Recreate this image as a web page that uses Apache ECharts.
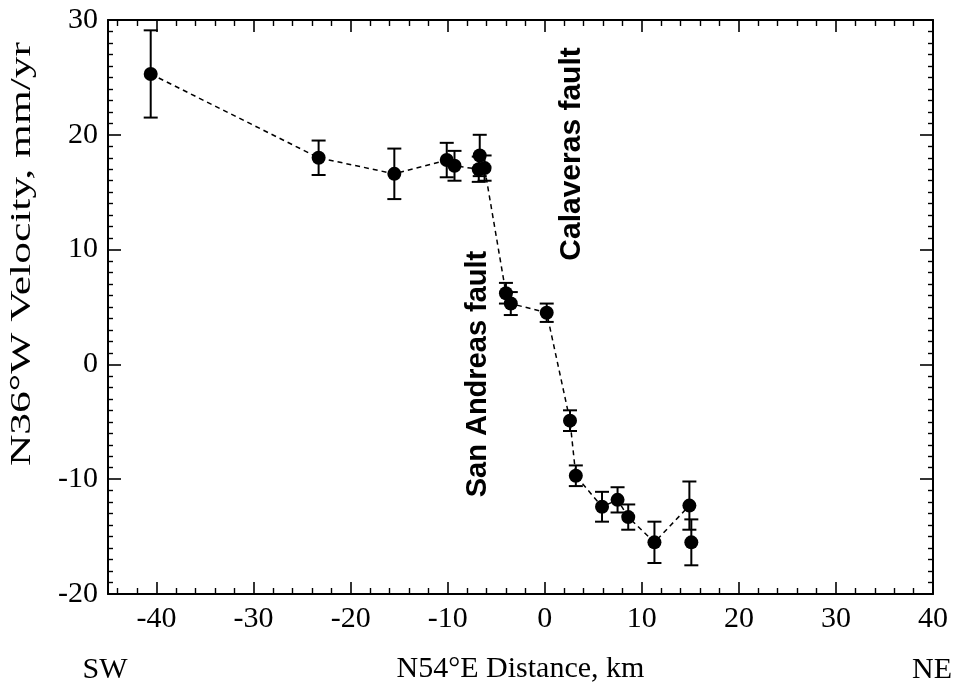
<!DOCTYPE html>
<html>
<head>
<meta charset="utf-8">
<script src="https://cdn.jsdelivr.net/npm/echarts@6/dist/echarts.min.js"></script>
<style>
  html, body { margin: 0; padding: 0; background: #fff; }
  #chart { width: 956px; height: 686px; }
</style>
</head>
<body>
<div id="chart"></div>
<script>
// station distance along profile (km), velocity (mm/yr) and 1-sigma error
const distance = [-40.6, -23.3, -15.5, -10.1, -9.3, -6.7, -6.8, -6.2, -4.0, -3.5, 0.2, 2.6, 3.2, 5.9, 7.5, 8.6, 11.3, 14.9, 15.1];
const velocity = [25.3, 18.0, 16.6, 17.8, 17.3, 18.2, 17.0, 17.1, 6.2, 5.3, 4.5, -4.9, -9.7, -12.4, -11.8, -13.3, -15.5, -12.3, -15.5];
const sigma    = [3.8, 1.5, 2.2, 1.5, 1.3, 1.8, 1.1, 1.1, 0.9, 1.0, 0.8, 0.9, 0.9, 1.3, 1.1, 1.1, 1.8, 2.1, 2.0];
// which stations the dashed profile line passes through
const onProfile = [1, 1, 1, 1, 1, 0, 1, 1, 1, 1, 1, 1, 1, 1, 1, 1, 1, 1, 0];

const xMajorTicks = [-40, -30, -20, -10, 0, 10, 20, 30, 40];
const xMinorTicks = [-44, -42, -38, -36, -34, -32, -28, -26, -24, -22, -18, -16, -14, -12,
  -8, -6, -4, -2, 2, 4, 6, 8, 12, 14, 16, 18, 22, 24, 26, 28, 32, 34, 36, 38];

const serif = '"Liberation Serif", "DejaVu Serif", serif';
const sans = '"Liberation Sans", Arial, sans-serif';

const points = distance.map((d, i) => [d, velocity[i], sigma[i]]);
const profile = points.filter((p, i) => onProfile[i]).map(p => [p[0], p[1]]);

const chart = echarts.init(document.getElementById('chart'));

const xBase = {
  type: 'value',
  min: -45,
  max: 40,
  splitLine: { show: false },
  axisLine: { show: false, onZero: false },
  axisLabel: { show: false }
};

const yBase = {
  type: 'value',
  min: -20,
  max: 30,
  interval: 10,
  splitLine: { show: false },
  axisLine: { show: true, onZero: false, lineStyle: { color: '#000', width: 2 } },
  axisTick: { inside: true, length: 13, lineStyle: { color: '#000', width: 1.6 } },
  minorTick: { show: true, splitNumber: 10, length: 5, lineStyle: { color: '#000', width: 1.4 } }
};

const option = {
  backgroundColor: '#fff',
  animation: false,
  grid: { left: 108, right: 23, top: 20, bottom: 92, containLabel: false, outerBoundsMode: 'none' },
  xAxis: [
    Object.assign({}, xBase, {
      position: 'bottom',
      axisLine: { show: true, onZero: false, lineStyle: { color: '#000', width: 2 } },
      axisTick: { inside: true, length: 12, customValues: xMajorTicks, lineStyle: { color: '#000', width: 1.6 } },
      axisLabel: {
        show: true, customValues: xMajorTicks, margin: 10,
        color: '#000', fontSize: 30, fontFamily: serif
      },
      name: 'N54°E Distance, km',
      nameLocation: 'middle',
      nameGap: 60,
      nameTextStyle: { color: '#000', fontSize: 30, fontFamily: serif }
    }),
    Object.assign({}, xBase, {
      position: 'bottom',
      axisTick: { inside: true, length: 6, customValues: xMinorTicks, lineStyle: { color: '#000', width: 1.4 } }
    }),
    Object.assign({}, xBase, {
      position: 'top',
      axisLine: { show: true, onZero: false, lineStyle: { color: '#000', width: 2 } },
      axisTick: { inside: true, length: 12, customValues: xMajorTicks, lineStyle: { color: '#000', width: 1.6 } }
    }),
    Object.assign({}, xBase, {
      position: 'top',
      axisTick: { inside: true, length: 6, customValues: xMinorTicks, lineStyle: { color: '#000', width: 1.4 } }
    })
  ],
  yAxis: [
    Object.assign({}, yBase, {
      position: 'left',
      axisLabel: { margin: 10, color: '#000', fontSize: 30, fontFamily: serif }
    }),
    Object.assign({}, yBase, {
      position: 'right',
      axisLabel: { show: false }
    })
  ],
  graphic: [
    {
      type: 'text', x: 22, y: 254, rotation: Math.PI / 2, scaleX: 1.45,
      style: { text: 'N36°W Velocity, mm/yr', font: '30px ' + serif, fill: '#000', align: 'center', verticalAlign: 'middle' }
    },
    {
      type: 'text', x: 105, y: 670,
      style: { text: 'SW', font: '30px ' + serif, fill: '#000', align: 'center', verticalAlign: 'middle' }
    },
    {
      type: 'text', x: 932, y: 670,
      style: { text: 'NE', font: '30px ' + serif, fill: '#000', align: 'center', verticalAlign: 'middle' }
    },
    {
      type: 'text', x: 478, y: 374, rotation: Math.PI / 2,
      style: { text: 'San Andreas fault', font: 'bold 29px ' + sans, fill: '#000', align: 'center', verticalAlign: 'middle' }
    },
    {
      type: 'text', x: 572, y: 154, rotation: Math.PI / 2,
      style: { text: 'Calaveras fault', font: 'bold 30px ' + sans, fill: '#000', align: 'center', verticalAlign: 'middle' }
    }
  ],
  series: [
    {
      type: 'line',
      data: profile,
      symbol: 'none',
      lineStyle: { color: '#000', width: 1.5, type: [5, 4] },
      z: 1
    },
    {
      type: 'custom',
      data: points,
      encode: { x: 0, y: 1 },
      renderItem: (params, api) => {
        const x = api.value(0);
        const y = api.value(1);
        const e = api.value(2);
        const top = api.coord([x, y + e]);
        const bot = api.coord([x, y - e]);
        const w = 7;
        const style = { stroke: '#000', lineWidth: 2 };
        return {
          type: 'group',
          children: [
            { type: 'line', shape: { x1: top[0], y1: top[1], x2: bot[0], y2: bot[1] }, style },
            { type: 'line', shape: { x1: top[0] - w, y1: top[1], x2: top[0] + w, y2: top[1] }, style },
            { type: 'line', shape: { x1: bot[0] - w, y1: bot[1], x2: bot[0] + w, y2: bot[1] }, style }
          ]
        };
      },
      z: 2
    },
    {
      type: 'scatter',
      data: points.map(p => [p[0], p[1]]),
      symbol: 'circle',
      symbolSize: 14,
      itemStyle: { color: '#000', opacity: 1 },
      z: 3
    }
  ]
};

chart.setOption(option);
</script>
</body>
</html>
